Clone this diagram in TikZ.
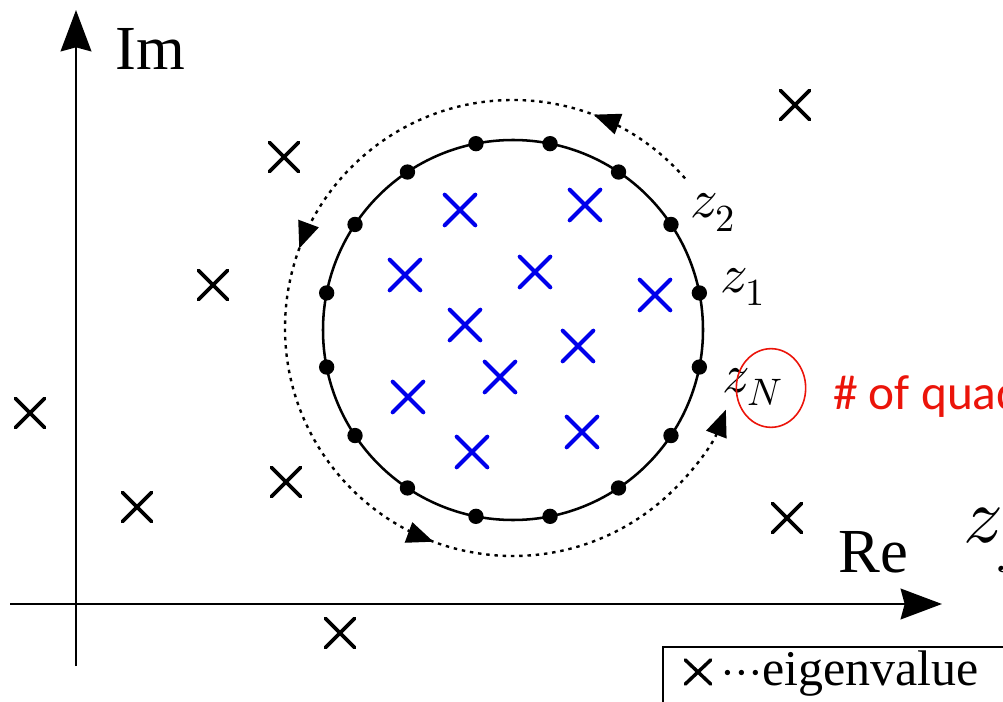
\documentclass[tikz,border=0pt]{standalone}
\usepackage{fontspec}
\usepackage{unicode-math}
\setmainfont{Liberation Serif}
\newfontfamily\calib{Carlito}
\usetikzlibrary{arrows.meta,shapes.misc,shapes.geometric,decorations.markings}
\definecolor{eigblue}{RGB}{0,0,235}
\definecolor{quadred}{RGB}{235,20,10}
\begin{document}
\begin{tikzpicture}[x=0.75pt,y=-0.75pt,
  eig/.style={draw=black,cross out,line width=2.8pt,line cap=round,inner sep=0pt,minimum size=19pt},
  eigin/.style={eig,draw=eigblue,line width=3pt,minimum size=20pt},
  qpt/.style={circle,fill=black,inner sep=0pt,minimum size=11.5pt},
  axis/.style={line width=2pt,-{Stealth[length=31pt,width=23pt,inset=3pt]}},
  zlab/.style={anchor=base west,inner sep=0pt,font=\fontsize{41}{48}\selectfont},
  axlab/.style={anchor=base west,inner sep=0pt,font=\fontsize{47}{56}\selectfont},
  ctip/.style={Triangle[length=20pt,width=16pt]},
  contour/.style={line width=1.8pt,dash pattern=on 2.6pt off 3.6pt,
    postaction={decorate},
    decoration={markings,
      mark=at position 0.095 with {\arrow{Triangle[length=20pt,width=16pt]}},
      mark=at position 0.398 with {\arrow{Triangle[length=20pt,width=16pt]}},
      mark=at position 0.700 with {\arrow{Triangle[length=20pt,width=16pt]}}}},
]
\useasboundingbox (0,0) rectangle (1003,702);
\clip (0,0) rectangle (1003,702);
% axes
\coordinate (ox) at (10,604);
\coordinate (xe) at (942,604);
\coordinate (oy) at (76,666);
\coordinate (ye) at (76,10);
\draw[axis] (ox) -- (xe);
\draw[axis] (oy) -- (ye);
\node[axlab] (im) at (115,70) {Im};
\node[axlab] (re) at (838,572) {Re};
% circle of quadrature points
\coordinate (c) at (513,330);
\draw[line width=1.9pt] (c) circle[radius=190];
\foreach \k in {0,...,15}{
  \node[qpt] (q\k) at ({513+190*cos(11.25+22.5*\k)},{330-190*sin(11.25+22.5*\k)}) {};
}
% contour
\coordinate (c2) at (513,328);
\draw[contour,-{Triangle[length=20pt,width=16pt]}] ([shift={(c2)}]-41:228) arc[start angle=-41,end angle=-339,radius=228];
% labels
\node[zlab] (z2) at (690,218) {$z_2$};
\node[zlab] (z1) at (720,292) {$z_1$};
\node[zlab] (zN) at (722,392) {$z_N$};
\node[draw=quadred,line width=1.2pt,ellipse,minimum width=52pt,minimum height=59pt,inner sep=0pt] (ring) at (771,388) {};
\node[anchor=base west,inner sep=0pt,text=quadred,font=\calib\fontsize{37}{44}\selectfont] (nq) at (833,409) {\# of quad};
\node[anchor=base west,inner sep=0pt,font=\fontsize{59}{70}\selectfont] (zj) at (963,542) {$z_j$};
% black eigenvalues
\foreach \p [count=\i] in {(795,105),(284,157),(213,285),(30,413),(137,507),(286,482),(787,518),(340,633)}
  \node[eig] (b\i) at \p {};
% blue eigenvalues
\foreach \p [count=\i] in {(460,210),(585,205),(405,275),(535,272),(655,295),(465,325),(578,346),(500,377),(408,397),(582,432),(472,452)}
  \node[eigin] (u\i) at \p {};
% legend
\coordinate (l1) at (663,720);
\coordinate (l2) at (663,647);
\coordinate (l3) at (1020,647);
\draw[line width=1.4pt] (l1) -- (l2) -- (l3);
\node[draw=black,cross out,line width=2.6pt,line cap=round,inner sep=0pt,minimum width=16.5pt,minimum height=15.5pt] (lx) at (698,672) {};
\node[anchor=base west,inner sep=0pt,font=\fontsize{37.5}{44}\selectfont] (lt) at (722,685) {$\cdots$\kern1pt eigenvalue};
\end{tikzpicture}
\end{document}
